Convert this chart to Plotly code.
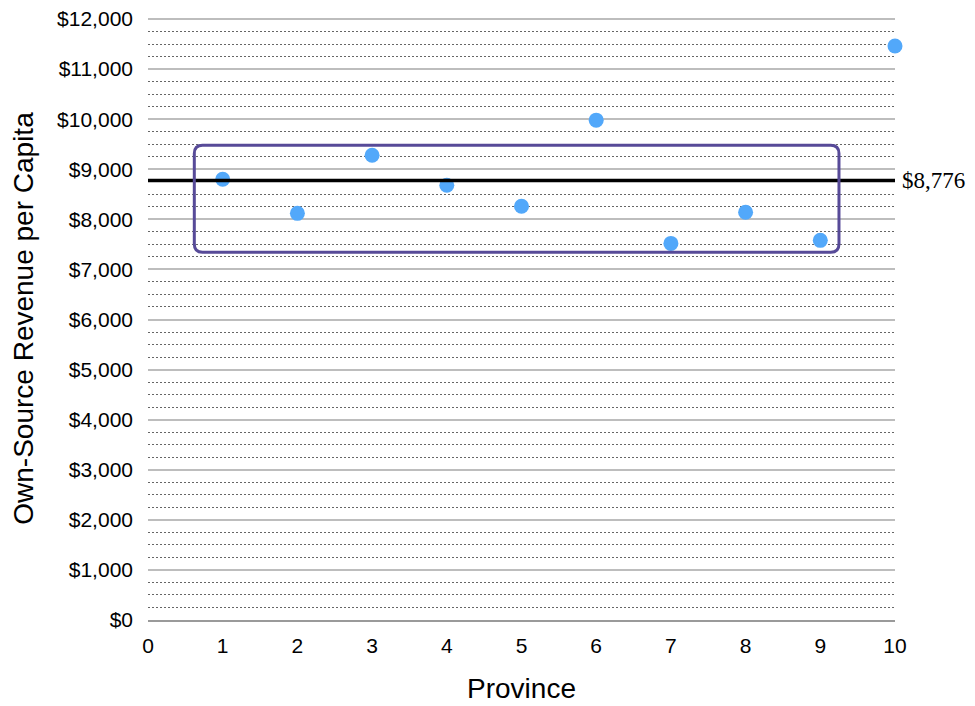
import plotly.graph_objects as go

provinces = [1, 2, 3, 4, 5, 6, 7, 8, 9, 10]
revenue = [8800, 8120, 9280, 8680, 8260, 9980, 7520, 8140, 7580, 11460]
mean_value = 8776
mean_label = "$8,776"
y_tick_vals = list(range(0, 12001, 1000))
y_tick_text = ["${:,}".format(v) for v in y_tick_vals]
x_tick_vals = list(range(0, 11))
box_x = [0.62, 9.25]
box_y = [7345, 9480]

fig = go.Figure()
fig.add_trace(go.Scatter(
    x=provinces, y=revenue, mode="markers",
    marker=dict(size=15, color="#52a8fa"),
    cliponaxis=False, showlegend=False,
))

# mean line
fig.add_shape(type="line", xref="x", yref="y", x0=0, x1=10, y0=mean_value, y1=mean_value,
              line=dict(color="black", width=3.5), layer="above")
fig.add_annotation(x=10, y=mean_value, xref="x", yref="y", text=mean_label, showarrow=False,
                   xanchor="left", xshift=5, font=dict(family="Liberation Serif", size=23, color="black"))

# rounded rectangle
rx, ry = 0.11, 165
x0, x1 = box_x
y0, y1 = box_y
path = (f"M {x0+rx},{y1} L {x1-rx},{y1} Q {x1},{y1} {x1},{y1-ry} "
        f"L {x1},{y0+ry} Q {x1},{y0} {x1-rx},{y0} L {x0+rx},{y0} "
        f"Q {x0},{y0} {x0},{y0+ry} L {x0},{y1-ry} Q {x0},{y1} {x0+rx},{y1} Z")
fig.add_shape(type="path", path=path, xref="x", yref="y",
              line=dict(color="#574a98", width=3), layer="above")

fig.update_layout(
    width=967, height=698,
    margin=dict(l=140, r=80, t=9, b=86, autoexpand=False),
    plot_bgcolor="white", paper_bgcolor="white",
    font=dict(family="Liberation Sans, Arial, sans-serif", size=20, color="black"),
    xaxis=dict(range=[0, 10], tickvals=x_tick_vals, showgrid=False, zeroline=False,
               showline=True, linecolor="#9a9a9a", linewidth=2, automargin=False,
               ticks="", tickfont=dict(size=21), ticklabelstandoff=6,
               ticklabeloverflow="allow",
               title=dict(text="Province", font=dict(size=28), standoff=22)),
    yaxis=dict(range=[0, 12040], tickvals=y_tick_vals, ticktext=y_tick_text,
               showgrid=True, gridcolor="#bdbdbd", gridwidth=2, zeroline=False, automargin=False,
               ticks="", tickfont=dict(size=21), ticklabelstandoff=14,
               ticklabeloverflow="allow",
               minor=dict(dtick=250, showgrid=True, gridcolor="#666666", gridwidth=1,
                          griddash="2px,2px"),
               title=dict(text="Own-Source Revenue per Capita", font=dict(size=28), standoff=20)),
)

fig.write_html("out.html")
